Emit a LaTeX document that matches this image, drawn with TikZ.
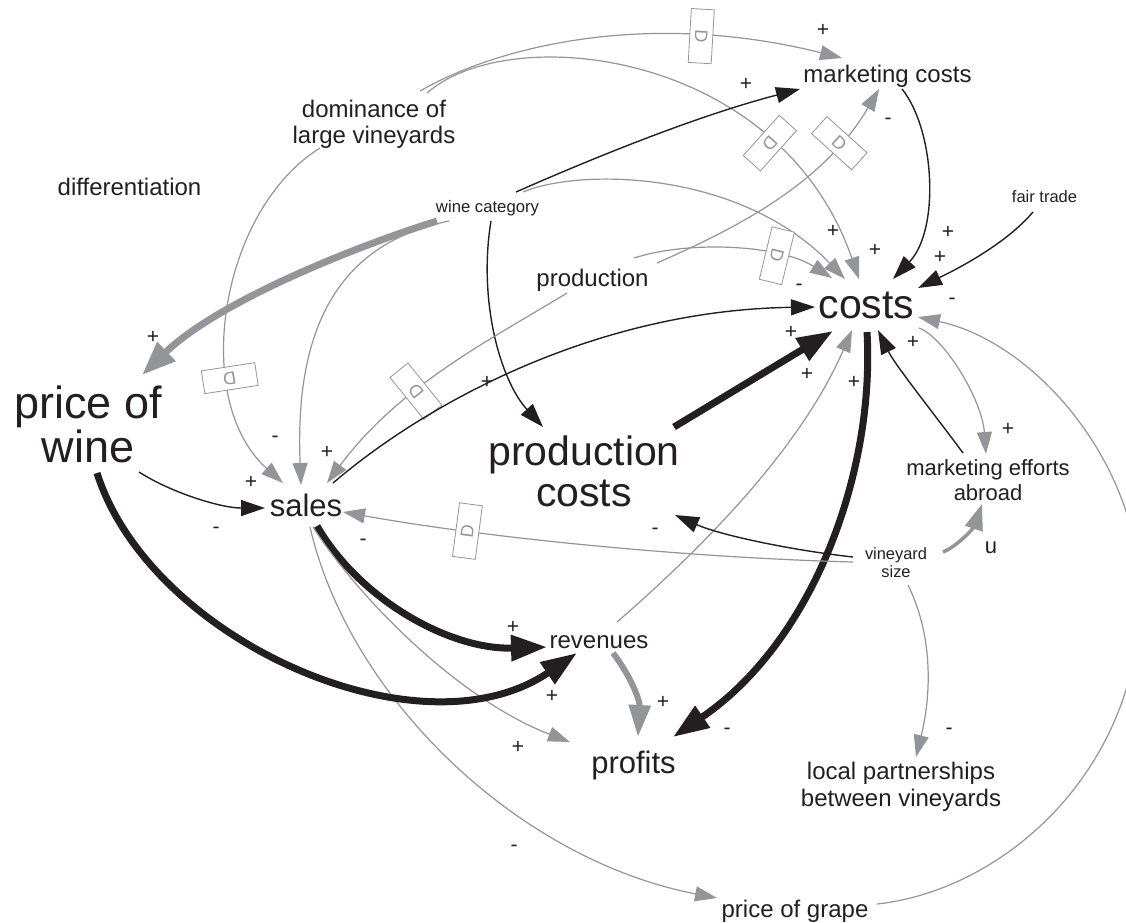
\documentclass[tikz,border=0pt]{standalone}
\usepackage{fontspec}
\setmainfont{Liberation Sans}
\usepackage{graphicx}
\usetikzlibrary{arrows.meta}
\definecolor{cgray}{RGB}{147,149,152}
\definecolor{cblack}{RGB}{35,31,32}
\newcommand{\myfs}[2]{\fontsize{#1}{#2}\selectfont}
\newcommand{\dmark}{\rotatebox{-90}{D}}
\tikzset{
  lbl/.style={inner sep=0pt, text=cblack},
  pol/.style={inner sep=0pt, text=cblack, font=\myfs{21}{21}},
  gthin/.style={draw=cgray, line width=1.2pt, -{Triangle[length=22pt,width=15pt]}},
  bthin/.style={draw=cblack, line width=1.4pt, -{Triangle[length=24pt,width=16pt]}},
  bthick/.style={draw=cblack, line width=7pt, -{Triangle[length=36pt,width=25pt]}},
  gthick/.style={draw=cgray, line width=7pt, -{Triangle[length=34pt,width=25pt]}},
  gmid/.style={draw=cgray, line width=6pt, -{Triangle[length=32pt,width=21pt]}},
  gmed/.style={draw=cgray, line width=3.5pt, -{Triangle[length=26pt,width=18pt]}},
  dbox/.style={draw=cgray, fill=white, line width=0.8pt, minimum width=23pt,
    minimum height=54pt, inner sep=0pt, sloped, allow upside down,
    text=cgray, font=\myfs{18}{18}}
}
\begin{document}
\begin{tikzpicture}[x=1pt,y=-1pt]
\useasboundingbox (0,0) rectangle (1126,922);
\clip (0,0) rectangle (1126,922);
\fill[white] (0,0) rectangle (1126,922);

% ---------- nodes ----------
\node[lbl, font=\myfs{24}{26}, align=center] (dom) at (374,124) {dominance of\\large vineyards};
\node[lbl, font=\myfs{24}{24}, anchor=base] (mc) at (887.5,82) {marketing costs};
\node[lbl, font=\myfs{24}{24}, anchor=base] (diff) at (129.5,195) {differentiation};
\node[lbl, font=\myfs{16.7}{16.7}, anchor=base] (wc) at (487.5,212) {wine category};
\node[lbl, font=\myfs{16.5}{16.5}, anchor=base] (ft) at (1044.5,202) {fair trade};
\node[lbl, font=\myfs{24}{24}, anchor=base] (prod) at (592.5,286) {production};
\node[lbl, font=\myfs{41}{41}, anchor=base] (costs) at (866.5,318) {costs};
\node[lbl, font=\myfs{45}{44}, align=center] (pow) at (88,424) {price of\\wine};
\node[lbl, font=\myfs{41}{41}, align=center] (pc) at (584,471) {production\\costs};
\node[lbl, font=\myfs{31}{31}, anchor=base] (sales) at (306,516) {sales};
\node[lbl, font=\myfs{22}{25}, align=center] (mea) at (988,480) {marketing efforts\\abroad};
\node[lbl, font=\myfs{16.4}{18}, align=center] (vs) at (896,563) {vineyard\\size};
\node[lbl, font=\myfs{22}{22}, anchor=base] (u) at (991,553) {u};
\node[lbl, font=\myfs{24}{24}, anchor=base] (rev) at (599,648) {revenues};
\node[lbl, font=\myfs{31}{31}, anchor=base] (prof) at (633.5,773) {profits};
\node[lbl, font=\myfs{24}{27}, align=center] (lp) at (901,787) {local partnerships\\between vineyards};
\node[lbl, font=\myfs{24}{24}, anchor=base] (pog) at (795,917) {price of grape};

% ---------- connectors ----------
% dominance
\draw[gthin] ([shift={(46,-33)}]dom.center) .. controls (500,45) and (650,10) .. ([shift={(-45.5,-24)}]mc.base) node[dbox,pos=0.74] (d1) {\dmark};
\draw[gthin] ([shift={(53,-31)}]dom.center) .. controls (510,20) and (780,50) .. ([shift={(-7.5,-39)}]costs.base) node[dbox,pos=0.75] (d2) {\dmark};
\draw[gthin] ([shift={(-54,24)}]dom.center) .. controls (220,210) and (190,400) .. ([shift={(-23,-33)}]sales.base) node[dbox,pos=0.68] (d5) {\dmark};
% wine category
\draw[bthin] ([shift={(28.5,-20)}]wc.base) .. controls (600,155) and (700,115) .. ([shift={(-87.5,7)}]mc.base);
\draw[gthin] ([shift={(35.5,-20)}]wc.base) .. controls (580,168) and (740,170) .. ([shift={(-21.5,-39)}]costs.base);
\draw[gthick] ([shift={(-50.5,9)}]wc.base) .. controls (360,245) and (220,300) .. ([shift={(54,-49)}]pow.center);
\draw[gthin] ([shift={(-38.5,9)}]wc.base) .. controls (330,245) and (295,340) .. ([shift={(-5,-31)}]sales.base);
\draw[bthin] ([shift={(3.5,9)}]wc.base) .. controls (478,300) and (500,380) .. ([shift={(-41,-44)}]pc.center);
% production
\draw[gthin] ([shift={(41.5,-28)}]prod.base) .. controls (690,240) and (780,245) .. ([shift={(-34.5,-40)}]costs.base) node[dbox,pos=0.7] (d3) {\dmark};
\draw[gthin] ([shift={(64.5,-23)}]prod.base) .. controls (720,235) and (820,190) .. ([shift={(-8.5,7)}]mc.base) node[dbox,pos=0.8] (d4) {\dmark};
\draw[gthin] ([shift={(-25.5,7)}]prod.base) .. controls (490,340) and (400,385) .. ([shift={(21,-33)}]sales.base) node[dbox,pos=0.62] (d6) {\dmark};
% marketing costs, fair trade
\draw[bthin] ([shift={(14.5,7)}]mc.base) .. controls (935,130) and (940,230) .. ([shift={(26.5,-39)}]costs.base);
\draw[bthin] ([shift={(-11.5,10)}]ft.base) .. controls (1005,245) and (955,270) .. ([shift={(51.5,-30)}]costs.base);
% sales
\draw[bthin] ([shift={(27,-33)}]sales.base) .. controls (430,400) and (600,310) .. ([shift={(-51.5,-11)}]costs.base);
\draw[bthick] ([shift={(11,10)}]sales.base) .. controls (360,600) and (450,650) .. ([shift={(-52,-1)}]rev.base);
\draw[gthin] ([shift={(7,11)}]sales.base) .. controls (360,600) and (460,700) .. ([shift={(-63.5,-31)}]prof.base);
\draw[gthin] ([shift={(4,11)}]sales.base) .. controls (350,700) and (520,860) .. ([shift={(-78,-19)}]pog.base);
% price of wine
\draw[bthin] ([shift={(51,48)}]pow.center) .. controls (170,492) and (220,508) .. ([shift={(-41,-8)}]sales.base);
\draw[bthick] ([shift={(9,49)}]pow.center) .. controls (150,640) and (420,760) .. ([shift={(-22,5)}]rev.base);
% revenues
\draw[gmid] ([shift={(14,5)}]rev.base) .. controls (630,675) and (640,700) .. ([shift={(4.5,-36)}]prof.base);
\draw[gthin] ([shift={(18,-26)}]rev.base) .. controls (700,550) and (800,450) .. ([shift={(-14.5,12)}]costs.base);
% production costs
\draw[bthick] ([shift={(90,-44)}]pc.center) -- ([shift={(-33.5,13)}]costs.base);
% costs
\draw[bthick] ([shift={(0.5,14)}]costs.base) .. controls (875,470) and (815,640) .. ([shift={(39.5,-36)}]prof.base);
\draw[gthin] ([shift={(52.5,10)}]costs.base) .. controls (945,338) and (982,400) .. ([shift={(-2,-26)}]mea.center);
\draw[bthin] ([shift={(-25,-27)}]mea.center) .. controls (935,415) and (895,365) .. ([shift={(11.5,12)}]costs.base);
% price of grape
\draw[gthin] ([shift={(82,-13)}]pog.base) .. controls (1005,890) and (1138,770) .. (1140,600) .. controls (1142,465) and (1035,342) .. ([shift={(51.5,-1)}]costs.base);
% vineyard size
\draw[gthin] ([shift={(-43,-1)}]vs.center) .. controls (700,558) and (500,540) .. ([shift={(37,-4)}]sales.base) node[dbox,pos=0.75] (d7) {\dmark};
\draw[bthin] ([shift={(-43,-6)}]vs.center) .. controls (790,550) and (720,535) .. ([shift={(91,44)}]pc.center);
\draw[gmed] ([shift={(47,-11)}]vs.center) .. controls (960,545) and (975,525) .. ([shift={(-6,24)}]mea.center);
\draw[gthin] ([shift={(12,22)}]vs.center) .. controls (935,640) and (930,700) .. ([shift={(15,-30)}]lp.center);

% ---------- polarities ----------
\node[pol] (s1) at (823,30) {+};
\node[pol] (s2) at (746,84) {+};
\node[pol] (s3) at (888,121) {-};
\node[pol] (s4) at (833,231) {+};
\node[pol] (s5) at (875,250) {+};
\node[pol] (s6) at (948,232) {+};
\node[pol] (s7) at (940,257) {+};
\node[pol] (s8) at (799,287) {-};
\node[pol] (s9) at (952,301) {-};
\node[pol] (s10) at (791,332) {+};
\node[pol] (s11) at (807,374) {+};
\node[pol] (s12) at (854,382) {+};
\node[pol] (s13) at (913,342) {+};
\node[pol] (s14) at (1008,429) {+};
\node[pol] (s15) at (153,337) {+};
\node[pol] (s16) at (275,439) {-};
\node[pol] (s17) at (327,452) {+};
\node[pol] (s18) at (251,482) {+};
\node[pol] (s19) at (216,530) {-};
\node[pol] (s20) at (363,542) {-};
\node[pol] (s21) at (487,382) {+};
\node[pol] (s22) at (655,531) {-};
\node[pol] (s23) at (513,627) {+};
\node[pol] (s24) at (552,696) {+};
\node[pol] (s25) at (663,702) {+};
\node[pol] (s26) at (518,747) {+};
\node[pol] (s27) at (727,731) {-};
\node[pol] (s28) at (949,731) {-};
\node[pol] (s29) at (514,848) {-};
\end{tikzpicture}
\end{document}
